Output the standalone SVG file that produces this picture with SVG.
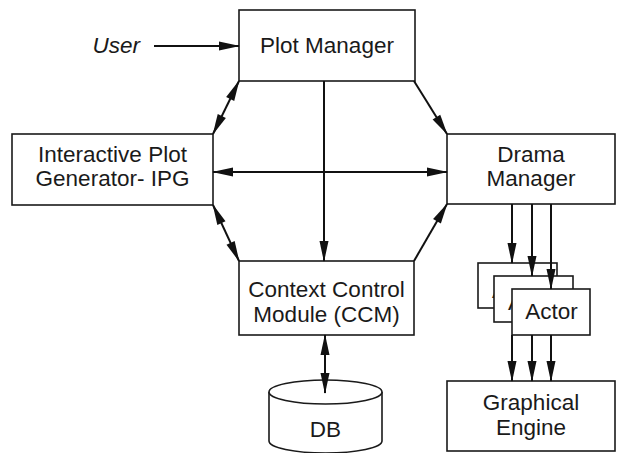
<svg xmlns="http://www.w3.org/2000/svg" width="617" height="453" viewBox="0 0 617 453">
<style>
.box{fill:#fff;stroke:#1a1a1a;stroke-width:1.6}
.t{font-family:"Liberation Sans",Arial,sans-serif;font-size:22.5px;fill:#1a1a1a;text-anchor:middle}
.c{stroke:#111;stroke-width:2;fill:none}
</style>
<defs>
<marker id="ah" markerUnits="userSpaceOnUse" markerWidth="21" markerHeight="9" refX="20" refY="4.5" orient="auto-start-reverse" overflow="visible">
<path d="M0,0 L21,4.5 L0,9 Z" fill="#111"/>
</marker>
</defs>
<rect width="617" height="453" fill="#fff"/>
<g id="user"><text x="140" y="53" class="t" style="text-anchor:end;font-style:italic">User</text></g>
<g id="plot-manager"><rect class="box" x="239" y="10" width="176" height="71"/><text class="t" x="327" y="53">Plot Manager</text></g>
<g id="ipg"><rect class="box" x="12" y="134" width="201" height="71"/><text class="t" x="112.5" y="162">Interactive Plot</text><text class="t" x="112.5" y="186">Generator- IPG</text></g>
<g id="drama-manager"><rect class="box" x="447" y="134" width="168" height="70"/><text class="t" x="531" y="162">Drama</text><text class="t" x="531" y="186">Manager</text></g>
<g id="ccm"><rect class="box" x="239" y="261" width="175" height="74"/><text class="t" x="326.5" y="297">Context Control</text><text class="t" x="326.5" y="322">Module (CCM)</text></g>
<g id="db"><path class="box" d="M269,392 L269,441 A56.5,12 0 0 0 382,441 L382,392"/><ellipse class="box" cx="325.5" cy="392" rx="56.5" ry="12"/><text class="t" x="325.5" y="437">DB</text></g>
<g id="actor1"><rect class="box" x="478" y="263" width="79" height="45"/><text class="t" x="492" y="298" style="text-anchor:start">A</text></g>
<g id="actor2"><rect class="box" x="494" y="276" width="79" height="46"/><text class="t" x="508" y="310" style="text-anchor:start">A</text></g>
<g id="actor3"><rect class="box" x="512" y="289" width="78" height="46"/><text class="t" x="551.5" y="319">Actor</text></g>
<g id="graphical-engine"><rect class="box" x="447" y="381" width="168" height="70"/><text class="t" x="531" y="410">Graphical</text><text class="t" x="531" y="435">Engine</text></g>
<g id="connectors">
<line class="c" x1="154" y1="46" x2="239" y2="46" marker-end="url(#ah)"/>
<line class="c" x1="239" y1="81" x2="213" y2="134" marker-start="url(#ah)" marker-end="url(#ah)"/>
<line class="c" x1="414" y1="81" x2="447" y2="134" marker-end="url(#ah)"/>
<line class="c" x1="324" y1="81" x2="324" y2="261" marker-end="url(#ah)"/>
<line class="c" x1="213" y1="172" x2="447" y2="172" marker-start="url(#ah)" marker-end="url(#ah)"/>
<line class="c" x1="213" y1="205" x2="239" y2="261" marker-start="url(#ah)" marker-end="url(#ah)"/>
<line class="c" x1="414" y1="261" x2="447" y2="204" marker-end="url(#ah)"/>
<line class="c" x1="325" y1="335" x2="325" y2="393" marker-start="url(#ah)" marker-end="url(#ah)"/>
<line class="c" x1="512" y1="204" x2="512" y2="263" marker-end="url(#ah)"/>
<line class="c" x1="532" y1="204" x2="532" y2="276" marker-end="url(#ah)"/>
<line class="c" x1="551" y1="204" x2="551" y2="289" marker-end="url(#ah)"/>
<line class="c" x1="512" y1="335" x2="512" y2="381" marker-end="url(#ah)"/>
<line class="c" x1="532" y1="335" x2="532" y2="381" marker-end="url(#ah)"/>
<line class="c" x1="551" y1="335" x2="551" y2="381" marker-end="url(#ah)"/>
</g>
</svg>
